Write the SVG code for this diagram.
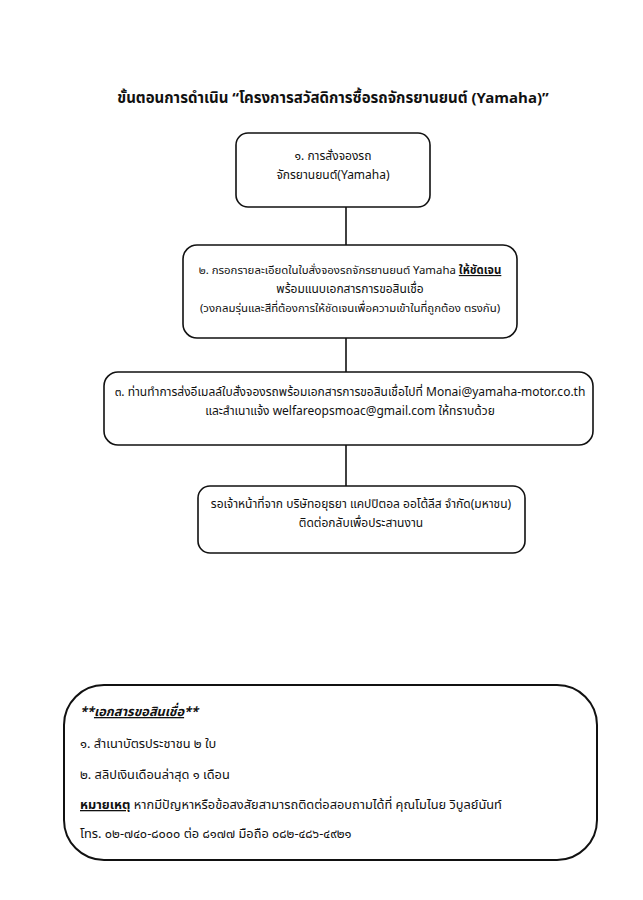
<svg xmlns="http://www.w3.org/2000/svg" width="643" height="900" viewBox="0 0 643 900">
<style>
text{font-family:"Noto Sans Thai","Liberation Sans","Noto Sans",sans-serif;fill:#111;font-size:12px}
.c{text-anchor:middle}
.t{font-size:15px;font-weight:bold}
.box{fill:#fff;stroke:#111;stroke-width:1.6}
.big{fill:#fff;stroke:#111;stroke-width:2}
.ln{stroke:#111;stroke-width:1.6;fill:none}
.u{text-decoration:underline}
.b{font-weight:bold}
.d{font-size:12.8px}
.s{font-size:11.4px}
</style>
<rect width="643" height="900" fill="#fff"/>
<text class="t c" x="333" y="103">ขั้นตอนการดำเนิน “โครงการสวัสดิการซื้อรถจักรยานยนต์ (Yamaha)”</text>
<g id="connectors">
<line class="ln" x1="346" y1="207" x2="346" y2="245"/>
<line class="ln" x1="346" y1="338" x2="346" y2="372"/>
<line class="ln" x1="346" y1="445" x2="346" y2="486"/>
</g>
<g id="step1">
<rect class="box" x="236" y="133" width="194" height="74" rx="12"/>
<text class="c" x="333" y="160">๑. การสั่งจองรถ</text>
<text class="c" x="333" y="179">จักรยานยนต์(Yamaha)</text>
</g>
<g id="step2">
<rect class="box" x="183" y="245" width="334" height="93" rx="14"/>
<text class="c s" x="350" y="274">๒. กรอกรายละเอียดในใบสั่งจองรถจักรยานยนต์ Yamaha <tspan class="u b">ให้ชัดเจน</tspan></text>
<text class="c" x="350" y="293">พร้อมแนบเอกสารการขอสินเชื่อ</text>
<text class="c s" x="350" y="312">(วงกลมรุ่นและสีที่ต้องการให้ชัดเจนเพื่อความเข้าในที่ถูกต้อง ตรงกัน)</text>
</g>
<g id="step3">
<rect class="box" x="104" y="372" width="489" height="73" rx="14"/>
<text class="c" x="350" y="396">๓. ท่านทำการส่งอีเมลล์ใบสั่งจองรถพร้อมเอกสารการขอสินเชื่อไปที่ Monai@yamaha-motor.co.th</text>
<text class="c" x="350" y="415">และสำเนาแจ้ง welfareopsmoac@gmail.com ให้ทราบด้วย</text>
</g>
<g id="step4">
<rect class="box" x="198" y="486" width="327" height="67" rx="12"/>
<text class="c" x="361" y="508">รอเจ้าหน้าที่จาก บริษัทอยุธยา แคปปิตอล ออโต้ลีส จำกัด(มหาชน)</text>
<text class="c" x="361" y="527">ติดต่อกลับเพื่อประสานงาน</text>
</g>
<g id="documents">
<rect class="big" x="64" y="685" width="533" height="175" rx="40"/>
<text x="80" y="716" class="b d" font-style="italic">**<tspan class="u">เอกสารขอสินเชื่อ</tspan>**</text>
<text x="80" y="748" class="d">๑. สำเนาบัตรประชาชน ๒ ใบ</text>
<text x="80" y="779" class="d">๒. สลิปเงินเดือนล่าสุด ๑ เดือน</text>
<text x="80" y="809" class="d"><tspan class="u b">หมายเหตุ</tspan> หากมีปัญหาหรือข้อสงสัยสามารถติดต่อสอบถามได้ที่ คุณโมไนย วิบูลย์นันท์</text>
<text x="80" y="838" class="d">โทร. ๐๒-๗๔๐-๘๐๐๐ ต่อ ๘๑๗๗ มือถือ ๐๘๒-๔๘๖-๔๙๒๑</text>
</g>
</svg>
